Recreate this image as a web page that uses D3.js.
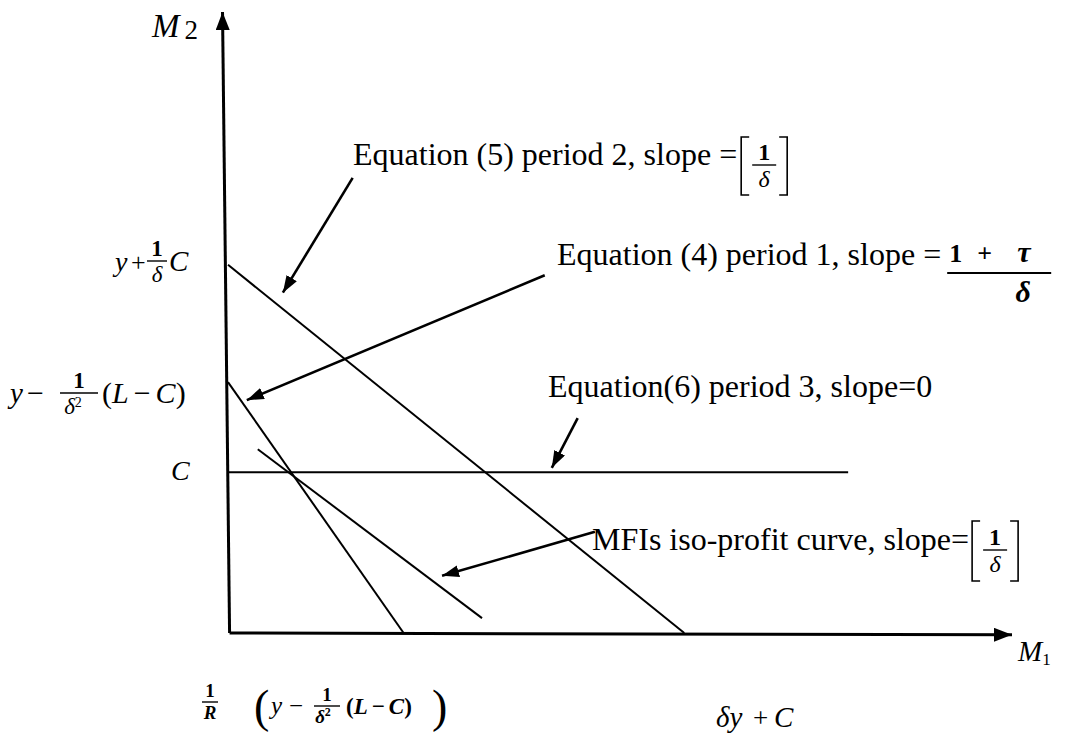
<!DOCTYPE html>
<html><head><meta charset="utf-8">
<script src="https://cdn.jsdelivr.net/npm/d3@7"></script>
<style>html,body{margin:0;padding:0;background:#fff;}svg{display:block;}</style>
</head><body>
<script>
// Repayment constraints by period and the MFI iso-profit curve in (M1, M2) space
const W = 1080, H = 738;

// Segments in (M1, M2) units: [start, end]
const period2Line   = [[0, 59.3], [58.2, 0]];    // Equation (5)
const period1Line   = [[0, 40.4], [22.4, 0]];    // Equation (4)
const period3Line   = [[0, 25.9], [79.1, 25.9]]; // Equation (6)
const isoProfitLine = [[3.8, 29.6], [32.4, 2.4]]; // MFI iso-profit

// Axis lines
const xAxisLine = [[0.2, 0], [100, -0.3]];
const yAxisLine = [[0.2, 0], [-0.7, 100]];

// Pointer arrows: [from, to]
const eq5Arrow = [[15.9, 73.3], [7.0, 54.8]];
const eq4Arrow = [[40.4, 57.6], [2.4, 37.5]];
const eq6Arrow = [[44.6, 34.6], [41.3, 26.6]];
const mfiArrow = [[46.8, 16.3], [27.3, 9.2]];

const x = d3.scaleLinear().domain([0, 100]).range([228, 1012]);
const y = d3.scaleLinear().domain([0, 100]).range([633, 12]);

const svg = d3.select("body").append("svg").attr("width", W).attr("height", H)
  .style("font-family", "'Liberation Serif', 'Times New Roman', serif");
svg.append("rect").attr("width", W).attr("height", H).attr("fill", "#fff");

const defs = svg.append("defs");
function marker(id, w, h) {
  defs.append("marker").attr("id", id)
    .attr("viewBox", `0 0 ${w} ${h}`).attr("refX", w).attr("refY", h / 2)
    .attr("markerWidth", w).attr("markerHeight", h)
    .attr("markerUnits", "userSpaceOnUse").attr("orient", "auto")
    .append("path").attr("d", `M0,0L${w},${h / 2}L0,${h}Z`).attr("fill", "#000");
}
marker("axisHead", 18, 14);
marker("ptrHead", 17, 12);

const line = d3.line().x(d => x(d[0])).y(d => y(d[1]));

// axes
svg.append("path").attr("d", line(yAxisLine)).attr("stroke", "#000").attr("stroke-width", 3)
  .attr("fill", "none").attr("marker-end", "url(#axisHead)");
svg.append("path").attr("d", line(xAxisLine)).attr("stroke", "#000").attr("stroke-width", 3)
  .attr("fill", "none").attr("marker-end", "url(#axisHead)");

// constraint lines
[period2Line, period1Line, period3Line, isoProfitLine].forEach(seg => {
  svg.append("path").attr("d", line(seg)).attr("stroke", "#000").attr("stroke-width", 2)
    .attr("fill", "none");
});

// pointer arrows
[eq5Arrow, eq4Arrow, eq6Arrow, mfiArrow].forEach(seg => {
  svg.append("path").attr("d", line(seg)).attr("stroke", "#000").attr("stroke-width", 2.6)
    .attr("fill", "none").attr("marker-end", "url(#ptrHead)");
});

// ---- text helpers ----
function txt(g, px, py, s, size, opts = {}) {
  const t = g.append("text").attr("x", px).attr("y", py).attr("font-size", size)
    .attr("fill", "#000").text(s);
  if (opts.italic) t.attr("font-style", "italic");
  if (opts.bold) t.attr("font-weight", "bold");
  if (opts.anchor) t.attr("text-anchor", opts.anchor);
  return t;
}
function width(t) { return t.node().getComputedTextLength(); }

// stacked fraction: numerator over a rule over denominator
function frac(g, cx, barY, num, den, size, opts = {}) {
  const n = txt(g, cx, barY - 5, num, size, { anchor: "middle", bold: opts.numBold });
  const d = txt(g, opts.denX != null ? opts.denX : cx, barY + size * 0.9, den, size,
    { anchor: "middle", italic: true, bold: opts.denBold });
  const bw = opts.barW || Math.max(width(n), width(d)) + 6;
  g.append("line").attr("x1", cx - bw / 2).attr("x2", cx + bw / 2).attr("y1", barY).attr("y2", barY)
    .attr("stroke", "#000").attr("stroke-width", opts.barStroke || 1.4);
  return { n, d };
}
// [1/δ] in square brackets
function bracketFrac(g, left, top, bottom) {
  const w = 46;
  const p = `M${left + 8},${top}H${left}V${bottom}H${left + 8}` +
            `M${left + w - 8},${top}H${left + w}V${bottom}H${left + w - 8}`;
  g.append("path").attr("d", p).attr("stroke", "#000").attr("stroke-width", 1.6).attr("fill", "none");
  const mid = (top + bottom) / 2 - 1;
  frac(g, left + w / 2, mid, "1", "δ", 24, { numBold: true, barW: 24 });
}

const g = svg.append("g");

// axis titles
const m2 = txt(g, 152, 37, "M", 33, { italic: true });
m2.append("tspan").attr("font-style", "normal").attr("font-size", 27).attr("dx", 5).attr("dy", 2).text("2");
const m1 = txt(g, 1018, 661, "M", 29, { italic: true });
m1.append("tspan").attr("font-style", "normal").attr("font-size", 17).attr("dy", 4).text("1");

// vertical-intercept labels
txt(g, 115, 271, "y", 28, { italic: true });
txt(g, 131, 271, "+", 26);
frac(g, 157, 261, "1", "δ", 23, { numBold: true, barW: 20 });
txt(g, 169, 271, "C", 29, { italic: true });

txt(g, 10, 403, "y", 29, { italic: true });
txt(g, 27, 403, "−", 30);
const f1 = frac(g, 79, 393, "1", "δ", 23, { numBold: true, barW: 38, denX: 73 });
f1.d.append("tspan").attr("font-style", "normal").attr("font-size", 14).attr("dy", -7).text("2");
const lc = txt(g, 102, 403, "(", 30);
lc.append("tspan").attr("font-style", "italic").text("L");
lc.append("tspan").attr("dx", 5).text("−");
lc.append("tspan").attr("dx", 5).attr("font-style", "italic").text("C");
lc.append("tspan").text(")");

txt(g, 171, 480, "C", 28, { italic: true });

// equation captions
const CAP = 32;
const e5 = txt(g, 353, 165, "Equation (5) period 2, slope = ", CAP);
bracketFrac(g, 353 + width(e5) + 4, 137, 195);

const e4 = txt(g, 557, 265, "Equation (4) period 1, slope = ", CAP);
const e4x = 557 + width(e4) + 6;
txt(g, e4x + 2, 262, "1", 26, { bold: true });
txt(g, e4x + 30, 262, "+", 26, { bold: true });
txt(g, e4x + 70, 262, "τ", 30, { bold: true, italic: true });
g.append("line").attr("x1", e4x).attr("x2", e4x + 104).attr("y1", 273).attr("y2", 273)
  .attr("stroke", "#000").attr("stroke-width", 2.2);
txt(g, e4x + 76, 302, "δ", 30, { bold: true, italic: true, anchor: "middle" });

txt(g, 548, 397, "Equation(6) period 3, slope=0", CAP);

const mf = txt(g, 592, 550, "MFIs iso-profit curve, slope=", CAP);
bracketFrac(g, 592 + width(mf) + 3, 521, 581);

// horizontal-intercept labels
frac(g, 210, 702, "1", "R", 19, { numBold: true, denBold: true, barW: 16 });
txt(g, 254, 722, "(", 46);
txt(g, 271, 714, "y", 25, { italic: true });
txt(g, 289, 714, "−", 25);
const f2 = frac(g, 327, 706, "1", "δ", 19, { numBold: true, barW: 26, denX: 323, denBold: true });
f2.d.append("tspan").attr("font-style", "normal").attr("font-size", 12).attr("dy", -7).text("2");
const lc2 = txt(g, 346, 714, "(", 23, { bold: true });
lc2.append("tspan").attr("font-style", "italic").text("L");
lc2.append("tspan").attr("dx", 4).text("−");
lc2.append("tspan").attr("dx", 4).attr("font-style", "italic").text("C");
lc2.append("tspan").text(")");
txt(g, 432, 722, ")", 46);

txt(g, 716, 727, "δy", 29, { italic: true });
txt(g, 753, 727, "+", 27);
txt(g, 774, 727, "C", 29, { italic: true });
</script>
</body></html>
